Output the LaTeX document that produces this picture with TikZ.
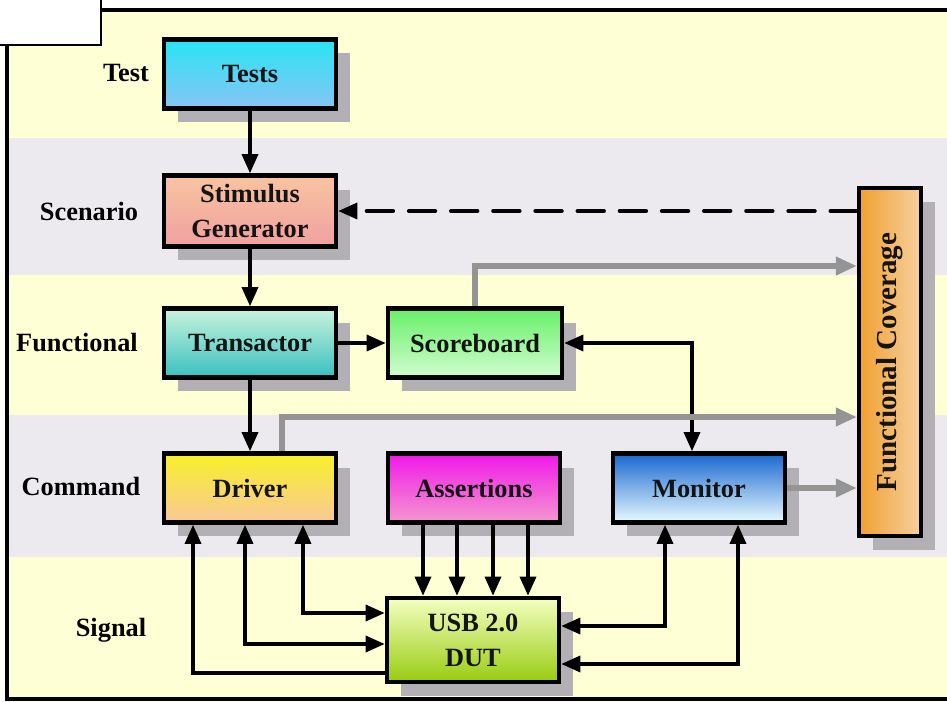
\documentclass[tikz,border=0pt]{standalone}
\usepackage{fontspec}
\setmainfont{Liberation Serif}
\usetikzlibrary{arrows.meta,shadows}
\definecolor{bandyellow}{HTML}{FFFFD6}
\definecolor{bandgray}{HTML}{ECEAEF}
\definecolor{shadowgray}{HTML}{B2B0B4}
\definecolor{linkgray}{HTML}{949494}
\newcommand\boxfont{\fontsize{15}{20}\selectfont\bfseries}
\tikzset{
  block/.style={draw, line width=2.4pt, minimum width=3.44cm, minimum height=1.38cm,
    align=center, font=\boxfont, text=black!92,
    general shadow={fill=shadowgray, shadow xshift=0.28cm, shadow yshift=-0.28cm}},
  lane/.style={font=\boxfont},
  link/.style={line width=2.3pt},
  feed/.style={line width=3.2pt, linkgray, -{Triangle[length=12pt,width=10pt]}},
}
\begin{document}
\begin{tikzpicture}[x=0.02cm, y=-0.02cm, >={Triangle[length=11pt,width=9pt]}]
\useasboundingbox (0,0) rectangle (947,702);
% layer bands
\fill[bandyellow] (7,10) rectangle (950,138);
\fill[bandgray] (7,138) rectangle (950,275);
\fill[bandyellow] (7,275) rectangle (950,415);
\fill[bandgray] (7,415) rectangle (950,557);
\fill[bandyellow] (7,557) rectangle (950,699);
\draw[line width=2.2pt] (960,10) -- (7,10) -- (7,699) -- (960,699);
\draw[fill=white, line width=1.2pt] (-10,-10) rectangle (101,45);

% layer names
\node[lane] (ltest) at (126,73) {Test};
\node[lane] (lscen) at (89,211) {Scenario};
\node[lane] (lfunc) at (77,343) {Functional};
\node[lane] (lcmd) at (81,486) {Command};
\node[lane] (lsig) at (111,630) {Signal};

% blocks
\node[block, top color={rgb,255:red,40;green,228;blue,244}, bottom color={rgb,255:red,136;green,196;blue,244}] (tests) at (250,74) {Tests};
\node[block, minimum height=1.42cm, top color={rgb,255:red,248;green,196;blue,160}, bottom color={rgb,255:red,240;green,160;blue,160}] (stim) at (250,211) {Stimulus\\Generator};
\node[block, top color={rgb,255:red,200;green,244;blue,220}, bottom color={rgb,255:red,56;green,192;blue,192}] (trans) at (250,343) {Transactor};
\node[block, minimum width=3.48cm, top color={rgb,255:red,104;green,240;blue,104}, bottom color={rgb,255:red,208;green,252;blue,208}] (score) at (475,343) {Scoreboard};
\node[block, top color={rgb,255:red,248;green,240;blue,40}, bottom color={rgb,255:red,248;green,200;blue,152}] (driver) at (250,488) {Driver};
\node[block, top color={rgb,255:red,240;green,24;blue,232}, bottom color={rgb,255:red,244;green,152;blue,208}] (assert) at (474,488) {Assertions};
\node[block, top color={rgb,255:red,24;green,104;blue,208}, bottom color={rgb,255:red,232;green,250;blue,255}] (monitor) at (699,488) {Monitor};
\node[block, minimum height=1.68cm, top color={rgb,255:red,244;green,255;blue,192}, bottom color={rgb,255:red,152;green,204;blue,16}] (dut) at (473,640) {USB 2.0\\DUT};
\node[block, minimum width=1.24cm, minimum height=6.96cm, font=\fontsize{16.5}{20}\selectfont\bfseries,
  left color={rgb,255:red,240;green,160;blue,48}, right color={rgb,255:red,248;green,208;blue,160}] (fc) at (890,362) {\rotatebox{90}{Functional Coverage}};

% flow
\draw[link,->] (tests) -- (stim);
\draw[link,->] (stim) -- (trans);
\draw[link,->] (trans) -- (score);
\draw[link,->] (trans) -- (driver);
\draw[link,->,dash pattern=on 15pt off 9pt, line cap=round] (fc.west |- stim.east) -- (stim.east);
\draw[link,<->] (score.east) -| ([xshift=-0.14cm]monitor.north);

% coverage feeds
\draw[feed] (score.north) |- ([yshift=1.92cm]fc.west);
\draw[feed] ([xshift=0.64cm]driver.north) |- ([yshift=-1.1cm]fc.west);
\draw[feed] (monitor.east) -- (fc.west |- monitor.east);

% signal level
\foreach \dx in {-1.02,-0.34,0.38,1.08}
  \draw[link,->] ([xshift=\dx cm]assert.south) -- ([xshift=\dx cm]assert.south |- dut.north);
\draw[link,<-] ([xshift=-1.14cm]driver.south) |- ([yshift=-0.66cm]dut.west);
\draw[link,<->] ([xshift=-0.1cm]driver.south) |- ([yshift=-0.08cm]dut.west);
\draw[link,<->] ([xshift=1.06cm]driver.south) |- ([yshift=0.54cm]dut.west);
\draw[link,<->] ([xshift=-0.68cm]monitor.south) |- ([yshift=0.28cm]dut.east);
\draw[link,<->] ([xshift=0.78cm]monitor.south) |- ([yshift=-0.48cm]dut.east);
\end{tikzpicture}
\end{document}
